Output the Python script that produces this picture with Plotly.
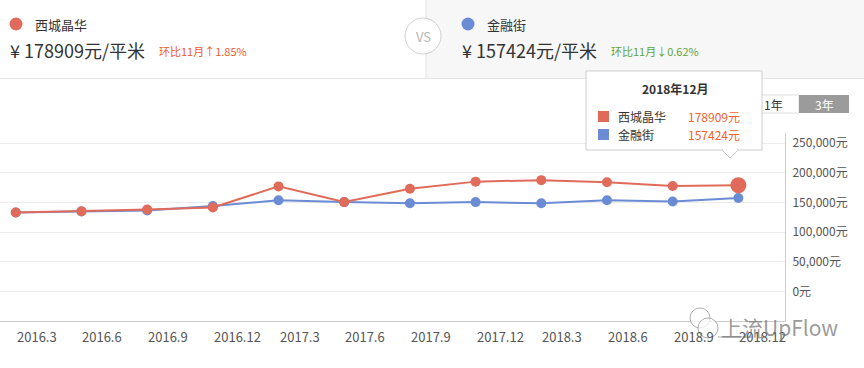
import plotly.graph_objects as go

# ---- data ----
periods = ["2016.3", "2016.6", "2016.9", "2016.12", "2017.3", "2017.6",
           "2017.9", "2017.12", "2018.3", "2018.6", "2018.9", "2018.12"]
xijing = [133000, 135000, 138000, 141500, 177000, 150500,
          173000, 185000, 187500, 184000, 177500, 178909]
jinrong = [133000, 134500, 136500, 144000, 153500, 150500,
           148500, 150500, 148500, 153500, 151500, 157424]
y_ticks = [0, 50000, 100000, 150000, 200000, 250000]
y_ticktext = [f"{v:,}元" for v in y_ticks]
name_a, name_b = "西城晶华", "金融街"

RED = "#e06b5a"
BLUE = "#6b8bd4"
FONT = "Noto Sans CJK SC"

W, H = 864, 368
L, R, T, B = 0, 785, 133, 321  # plot area in pixels


def px(x):
    return (x - L) / (R - L)


def py(y):
    return (B - y) / (B - T)


idx = list(range(len(periods)))

fig = go.Figure()
fig.add_trace(go.Scatter(x=idx, y=jinrong, mode="lines+markers", name=name_b,
                         line=dict(color=BLUE, width=2),
                         marker=dict(size=10, color=BLUE), hoverinfo="skip"))
fig.add_trace(go.Scatter(x=idx, y=xijing, mode="lines+markers", name=name_a,
                         line=dict(color=RED, width=2),
                         marker=dict(size=10, color=RED), hoverinfo="skip"))
fig.add_trace(go.Scatter(x=[idx[-1]], y=[xijing[-1]], mode="markers",
                         marker=dict(size=16, color=RED), hoverinfo="skip",
                         showlegend=False))

shapes = []
ann = []


def rect(x0, y0, x1, y1, fill, line=None, lw=1):
    shapes.append(dict(type="rect", xref="paper", yref="paper",
                       x0=px(x0), x1=px(x1), y0=py(y1), y1=py(y0),
                       fillcolor=fill, layer="above",
                       line=dict(color=line or fill, width=lw if line else 0)))


def hline(x0, x1, y, color, w=1):
    shapes.append(dict(type="line", xref="paper", yref="paper",
                       x0=px(x0), x1=px(x1), y0=py(y), y1=py(y),
                       line=dict(color=color, width=w), layer="above"))


def circle(cx, cy, r, fill, line=None, lw=1):
    shapes.append(dict(type="circle", xref="paper", yref="paper",
                       x0=px(cx - r), x1=px(cx + r), y0=py(cy + r), y1=py(cy - r),
                       fillcolor=fill, layer="above",
                       line=dict(color=line or fill, width=lw if line else 0)))


def text(x, y, s, size=12, color="#333", anchor="left", bold=False):
    ann.append(dict(xref="paper", yref="paper", x=px(x), y=py(y),
                    text=f"<b>{s}</b>" if bold else s, showarrow=False,
                    xanchor=anchor, yanchor="middle",
                    font=dict(size=size, color=color, family=FONT)))


# ---- header ----
rect(425, 0, 864, 78, "#f7f7f7")
hline(0, 864, 78.5, "#e6e6e6")
shapes.append(dict(type="line", xref="paper", yref="paper", x0=px(426), x1=px(426),
                   y0=py(78), y1=py(0), line=dict(color="#e6e6e6", width=1), layer="above"))
circle(423, 36, 18, "#ffffff", "#cfcfcf", 1)
text(423, 36, "VS", 13, "#b5b5b5", "center")

circle(16, 24, 6.5, RED)
text(33, 24, name_a, 13, "#333")
text(8, 50, f"¥ {xijing[-1]}元/平米", 18, "#333")
text(157, 51, "环比11月↑1.85%", 11, "#f2592b")

circle(468, 24, 6.5, BLUE)
text(485, 24, name_b, 13, "#333")
text(460, 50, f"¥ {jinrong[-1]}元/平米", 18, "#333")
text(609, 51, "环比11月↓0.62%", 11, "#5fa33a")

# ---- range buttons ----
rect(740, 95, 799, 113, "#ffffff", "#dddddd", 1)
text(773, 104, "1年", 12, "#333", "center")
rect(799, 95, 849, 113, "#9b9b9b")
text(824, 104, "3年", 12, "#ffffff", "center")

# ---- tooltip ----
rect(586, 71, 762, 150, "#ffffff", "#cccccc", 1)
shapes.append(dict(type="path", xref="paper", yref="paper",
                   path=f"M {px(722)},{py(150)} L {px(730)},{py(158)} L {px(738)},{py(150)} Z",
                   fillcolor="#ffffff", line=dict(color="#cccccc", width=1), layer="above"))
hline(723, 737, 150, "#ffffff", 2)
text(675, 88, "2018年12月", 12, "#333", "center", bold=True)
rect(598, 111, 609, 122, RED)
rect(598, 129, 609, 140, BLUE)
text(616, 116, name_a, 12, "#333")
text(616, 134, name_b, 12, "#333")
text(686, 116, f"{xijing[-1]}元", 12, "#f5612c")
text(686, 134, f"{jinrong[-1]}元", 12, "#f5612c")

# ---- x labels (left-aligned at each point) ----
for i, p in zip(idx, periods):
    ann.append(dict(xref="x", yref="paper", x=i, y=py(336), text=p,
                    showarrow=False, xanchor="left", yanchor="middle", xshift=-1,
                    font=dict(size=13, color="#555", family=FONT)))

# ---- watermark ----
circle(700, 318, 10, "rgba(255,255,255,0.7)", "rgba(140,140,140,0.7)", 1)
circle(708, 328, 10, "rgba(255,255,255,0.7)", "rgba(140,140,140,0.7)", 1)
hline(718, 752, 337, "rgba(110,110,110,0.6)", 1)
text(719, 327, "上流UpFlow", 21, "rgba(110,110,110,0.7)")

fig.update_layout(
    width=W, height=H,
    margin=dict(l=L, r=W - R, t=T, b=H - B, pad=0),
    paper_bgcolor="#ffffff", plot_bgcolor="#ffffff",
    showlegend=False,
    font=dict(family=FONT, size=12, color="#555"),
    xaxis=dict(range=[-0.24, 11.71], showgrid=False, zeroline=False,
               showticklabels=False, ticks="", showline=True,
               linecolor="#cccccc", linewidth=1, fixedrange=True),
    yaxis=dict(range=[-50000, 267000], side="right", tickvals=y_ticks,
               ticktext=y_ticktext, showgrid=True,
               gridcolor="#ececec", gridwidth=1, zeroline=False,
               showline=True, linecolor="#cccccc", linewidth=1,
               ticks="", ticklabelstandoff=4,
               tickfont=dict(size=12, color="#555", family=FONT)),
    shapes=shapes, annotations=ann,
)

fig.write_html("out.html", config={"displayModeBar": False},
               post_script="document.body.style.margin='0';document.body.style.overflow='hidden';")
